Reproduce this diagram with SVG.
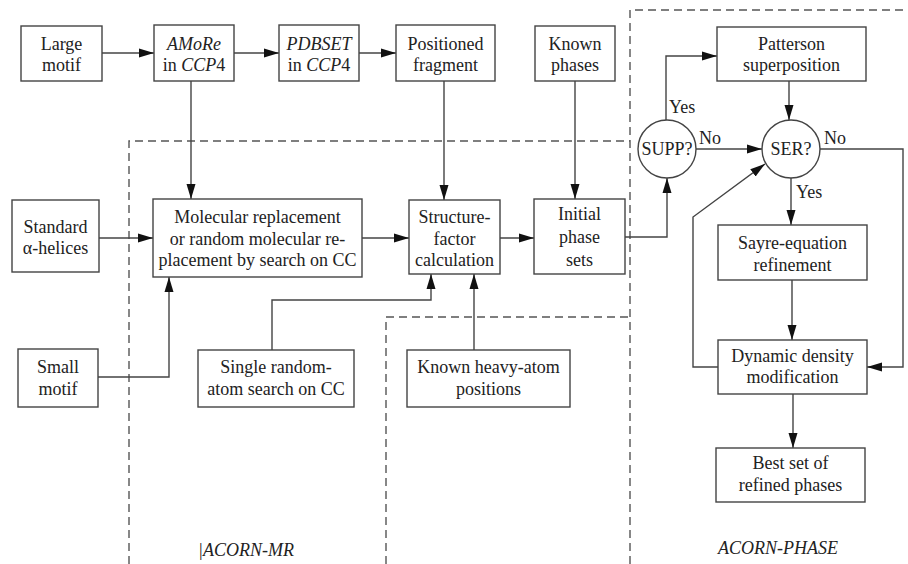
<svg xmlns="http://www.w3.org/2000/svg" width="908" height="564" viewBox="0 0 908 564">
<style>
.box{fill:#fff;stroke:#444;stroke-width:1.4}
.t{font-family:"Liberation Serif","Times New Roman",serif;font-size:18px;fill:#222;text-anchor:middle}
.l{font-family:"Liberation Serif","Times New Roman",serif;font-size:18px;fill:#222}
.i{font-style:italic}
.c{fill:none;stroke:#444;stroke-width:1.4}
.d{fill:none;stroke:#555;stroke-width:1.4;stroke-dasharray:8,5}
</style>
<defs>
<marker id="a" markerUnits="userSpaceOnUse" markerWidth="16" markerHeight="10" refX="15" refY="5" orient="auto">
<path d="M0,0.5 L15,5 L0,9.5 z" fill="#111"/>
</marker>
</defs>
<rect width="908" height="564" fill="#fff"/>
<g id="regions">
<polyline class="d" points="129,564 129,141 630,141"/>
<polyline class="d" points="386,564 386,317 630,317"/>
<polyline class="d" points="630,564 630,10 908,10"/>
<text class="l i" x="198" y="556">|ACORN-MR</text>
<text class="l i" x="718" y="554">ACORN-PHASE</text>
</g>
<g id="connectors">
<line class="c" x1="102" y1="53" x2="154" y2="53" marker-end="url(#a)"/>
<line class="c" x1="234" y1="53" x2="279" y2="53" marker-end="url(#a)"/>
<line class="c" x1="359" y1="53" x2="396" y2="53" marker-end="url(#a)"/>
<line class="c" x1="191" y1="81" x2="191" y2="199" marker-end="url(#a)"/>
<line class="c" x1="444" y1="81" x2="444" y2="200" marker-end="url(#a)"/>
<line class="c" x1="575" y1="81" x2="575" y2="199" marker-end="url(#a)"/>
<line class="c" x1="99" y1="238" x2="153" y2="238" marker-end="url(#a)"/>
<line class="c" x1="362" y1="238" x2="409" y2="238" marker-end="url(#a)"/>
<line class="c" x1="500" y1="238" x2="534" y2="238" marker-end="url(#a)"/>
<polyline class="c" points="625,237 667,237 667,178" marker-end="url(#a)"/>
<polyline class="c" points="666,120 666,56 717,56" marker-end="url(#a)"/>
<line class="c" x1="696" y1="149" x2="762" y2="149" marker-end="url(#a)"/>
<line class="c" x1="789" y1="81" x2="789" y2="120" marker-end="url(#a)"/>
<line class="c" x1="791" y1="178" x2="791" y2="225" marker-end="url(#a)"/>
<line class="c" x1="792" y1="280" x2="792" y2="340" marker-end="url(#a)"/>
<line class="c" x1="793" y1="394" x2="793" y2="448" marker-end="url(#a)"/>
<polyline class="c" points="718,367 693,367 693,217 765,164" marker-end="url(#a)"/>
<polyline class="c" points="820,149 903,149 903,367 867,367" marker-end="url(#a)"/>
<polyline class="c" points="98,377 169,377 169,277" marker-end="url(#a)"/>
<polyline class="c" points="272,350 272,300 431,300 431,274" marker-end="url(#a)"/>
<line class="c" x1="474" y1="350" x2="474" y2="274" marker-end="url(#a)"/>
<text class="l" x="669" y="113">Yes</text>
<text class="l" x="699" y="144">No</text>
<text class="l" x="824" y="144">No</text>
<text class="l" x="796" y="198">Yes</text>
</g>
<g id="n-large-motif">
<rect class="box" x="21" y="26" width="81" height="55"/>
<text class="t" x="61.5" y="49.5">Large</text>
<text class="t" x="61.5" y="70.5">motif</text>
</g>
<g id="n-amore">
<rect class="box" x="154" y="25" width="80" height="56"/>
<text class="t i" x="194" y="49.5">AMoRe</text>
<text class="t" x="194" y="70.5">in <tspan class="i">CCP</tspan>4</text>
</g>
<g id="n-pdbset">
<rect class="box" x="279" y="25" width="80" height="56"/>
<text class="t i" x="319" y="49.5">PDBSET</text>
<text class="t" x="319" y="70.5">in <tspan class="i">CCP</tspan>4</text>
</g>
<g id="n-positioned">
<rect class="box" x="396" y="25" width="99" height="56"/>
<text class="t" x="445.5" y="49.5">Positioned</text>
<text class="t" x="445.5" y="70.5">fragment</text>
</g>
<g id="n-known-phases">
<rect class="box" x="535" y="26" width="80" height="55"/>
<text class="t" x="575" y="49.5">Known</text>
<text class="t" x="575" y="70.5">phases</text>
</g>
<g id="n-patterson">
<rect class="box" x="717" y="27" width="149" height="54"/>
<text class="t" x="791.5" y="49.5">Patterson</text>
<text class="t" x="791.5" y="70.5">superposition</text>
</g>
<g id="n-supp">
<circle class="box" cx="667" cy="149" r="29"/>
<text class="t" x="667" y="155">SUPP?</text>
</g>
<g id="n-ser">
<circle class="box" cx="791" cy="149" r="29"/>
<text class="t" x="791" y="155">SER?</text>
</g>
<g id="n-standard">
<rect class="box" x="12" y="200" width="87" height="72"/>
<text class="t" x="55.5" y="233">Standard</text>
<text class="t" x="55.5" y="254">α-helices</text>
</g>
<g id="n-mr">
<rect class="box" x="153" y="199" width="209" height="78"/>
<text class="t" x="257.5" y="223">Molecular replacement</text>
<text class="t" x="257.5" y="244.5">or random molecular re-</text>
<text class="t" x="257.5" y="266">placement by search on CC</text>
</g>
<g id="n-sf">
<rect class="box" x="409" y="200" width="91" height="74"/>
<text class="t" x="454.5" y="223">Structure-</text>
<text class="t" x="454.5" y="244.5">factor</text>
<text class="t" x="454.5" y="266">calculation</text>
</g>
<g id="n-initial">
<rect class="box" x="534" y="199" width="91" height="75"/>
<text class="t" x="579.5" y="220">Initial</text>
<text class="t" x="579.5" y="243">phase</text>
<text class="t" x="579.5" y="266">sets</text>
</g>
<g id="n-sayre">
<rect class="box" x="718" y="225" width="149" height="55"/>
<text class="t" x="792.5" y="249">Sayre-equation</text>
<text class="t" x="792.5" y="271">refinement</text>
</g>
<g id="n-small-motif">
<rect class="box" x="18" y="349" width="80" height="58"/>
<text class="t" x="58" y="373">Small</text>
<text class="t" x="58" y="395">motif</text>
</g>
<g id="n-single">
<rect class="box" x="198" y="350" width="156" height="57"/>
<text class="t" x="276" y="373">Single random-</text>
<text class="t" x="276" y="395">atom search on CC</text>
</g>
<g id="n-heavy">
<rect class="box" x="407" y="350" width="163" height="57"/>
<text class="t" x="488.5" y="373">Known heavy-atom</text>
<text class="t" x="488.5" y="395">positions</text>
</g>
<g id="n-dynamic">
<rect class="box" x="718" y="340" width="149" height="54"/>
<text class="t" x="792.5" y="362">Dynamic density</text>
<text class="t" x="792.5" y="383">modification</text>
</g>
<g id="n-best">
<rect class="box" x="716" y="448" width="149" height="54"/>
<text class="t" x="790.5" y="469">Best set of</text>
<text class="t" x="790.5" y="491">refined phases</text>
</g>
</svg>
